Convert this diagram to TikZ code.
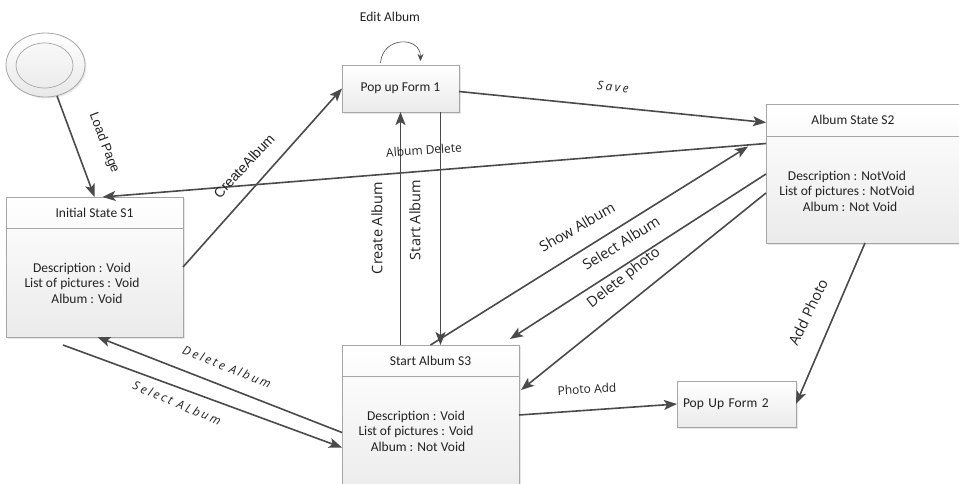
\documentclass[tikz,border=0pt]{standalone}
\usepackage{fontspec}
\setmainfont{Carlito}
\newfontfamily\osans{Open Sans}
\newfontfamily\osansls[LetterSpace=20]{Open Sans}
\newfontfamily\lsans{Liberation Sans}
\usetikzlibrary{arrows.meta,shapes.geometric,shadows,calc}
\definecolor{arrowc}{HTML}{4A4A4A}
\definecolor{boxline}{HTML}{A6A6A6}
\definecolor{txt}{HTML}{222222}
\begin{document}
\begin{tikzpicture}[x=1pt,y=-1pt,
  statebox/.style={draw=boxline, line width=0.8pt, top color=white, bottom color=gray!16,
    inner sep=0pt, outer sep=0pt, drop shadow={shadow xshift=1.5pt,shadow yshift=-1.5pt,opacity=0.2}},
  conn/.style={draw=arrowc, line width=1.6pt, -{Stealth[length=13pt,width=10pt,inset=3pt]}},
  loopc/.style={draw=arrowc, line width=0.6pt, -{Stealth[length=7pt,width=6pt]}},
  boxtext/.style={font=\fontsize{13.5}{15.5}\selectfont, text=txt, inner sep=0pt, align=center},
  lbl/.style={font=\osans\fontsize{14.5}{16}\selectfont, text=txt, inner sep=0pt},
  slbl/.style={font=\osans\fontsize{12}{14}\selectfont, text=txt, inner sep=0pt},
  ilbl/.style={font=\osansls\itshape\fontsize{12}{14}\selectfont, text=txt, inner sep=0pt},
  alabel/.style={font=\lsans\fontsize{13}{15}\selectfont, text=txt, inner sep=0pt}
]
\useasboundingbox (0,0) rectangle (959,483);
\clip (0,0) rectangle (959,483);

% start state
\node[ellipse, draw=boxline, line width=0.8pt, top color=white, bottom color=gray!18,
  minimum width=79pt, minimum height=64pt, inner sep=0pt,
  drop shadow={shadow xshift=1.5pt,shadow yshift=-1.5pt,opacity=0.18}] (start) at (45.5,65) {};
\node[ellipse, draw=boxline, line width=0.7pt, top color=gray!5, bottom color=gray!15,
  minimum width=57pt, minimum height=45pt, inner sep=0pt] (startin) at (44.5,65.5) {};

% state boxes
\node[statebox, minimum width=177pt, minimum height=140pt] (S1) at (94.5,267) {};
\draw[boxline, line width=0.7pt] ([yshift=-31pt]S1.north west) -- ([yshift=-31pt]S1.north east);
\node[boxtext] (S1t) at (94.5,213) {Initial State S1};
\node[boxtext] (S1b) at (82,283) {Description : Void\\List of pictures : Void\\\hspace*{10pt}Album : Void};

\node[statebox, minimum width=117pt, minimum height=47pt, boxtext] (PF1) at (400.5,88.5) {Pop up Form 1};

\node[statebox, minimum width=204pt, minimum height=139pt] (S2) at (868,173.5) {};
\draw[boxline, line width=0.7pt] ([yshift=-32pt]S2.north west) -- ([yshift=-32pt]S2.north east);
\node[boxtext] (S2t) at (853,120) {Album State S2};
\node[boxtext] (S2b) at (847,191) {Description : NotVoid\\List of pictures : NotVoid\\\hspace*{6pt}Album : Not Void};

\node[statebox, minimum width=177pt, minimum height=155pt] (S3) at (430.5,422.5) {};
\draw[boxline, line width=0.7pt] ([yshift=-31pt]S3.north west) -- ([yshift=-31pt]S3.north east);
\node[boxtext] (S3t) at (430.5,361) {Start Album S3};
\node[boxtext] (S3b) at (416,431) {Description : Void\\List of pictures : Void\\\hspace*{4pt}Album : Not Void};

\node[statebox, minimum width=119pt, minimum height=46pt, boxtext, align=left, text width=107pt,
  inner xsep=6pt] (PF2) at (736.5,404) {Pop Up Form 2};

\coordinate (sa) at (63,345);

% connectors
\draw[conn] (start) -- (S1.north);
\draw[conn] ([yshift=30pt]S2.west) -- ([xshift=8pt]S1.north);
\draw[conn] (S1.east) -- (PF1.west);
\draw[conn] ([yshift=-3pt]PF1.east) -- ([yshift=51pt]S2.west);
\draw[conn] ([xshift=-30pt]S3.north) -- (PF1.south);
\draw[conn] ([xshift=40pt]PF1.south) -- ([xshift=10pt]S3.north);
\draw[conn] (S3.north) -- ([xshift=-18pt,yshift=27pt]S2.west);
\draw[conn] ([yshift=-0.5pt]S2.west) -- ([xshift=-9pt,yshift=6pt]S3.north east);
\draw[conn] ([yshift=-19.5pt]S2.west) -- ([xshift=2pt,yshift=32.5pt]S3.east);
\draw[conn] ([xshift=-3pt]S2.south) -- (PF2.east);
\draw[conn] ([yshift=7.5pt]S3.east) -- (PF2.west);
\draw[conn] ([yshift=-10pt]S3.west) -- ([xshift=3pt]S1.south);
\draw[conn] (sa) -- ([yshift=-25pt]S3.west);
\draw[loopc] ([xshift=-20pt,yshift=2pt]PF1.north) .. controls ([xshift=-18pt,yshift=29pt]PF1.north) and ([xshift=20pt,yshift=29pt]PF1.north) .. ([xshift=20pt,yshift=4pt]PF1.north);

% labels
\node[alabel, rotate=-69] (lLoad) at (104,143) {Load Page};
\node[alabel, rotate=47, font=\lsans\fontsize{14}{16}\selectfont] (lCA) at (244,166) {CreateAlbum};
\node[ilbl, rotate=-5] (lSave) at (613,87) {Save};
\node[boxtext] (lEdit) at (390,17) {Edit Album};
\node[slbl, rotate=4] (lAD) at (424,150) {Album Delete};
\node[lbl, rotate=90] (lCrA) at (377,228) {Create Album};
\node[lbl, rotate=90] (lStA) at (415,220) {Start Album};
\node[lbl, rotate=30] (lShow) at (577,227) {Show Album};
\node[lbl, rotate=32, fill=white, inner sep=1pt] (lSel) at (621,243) {Select Album};
\node[lbl, rotate=38] (lDelP) at (624,278) {Delete photo};
\node[lbl, rotate=64] (lAdd) at (808,312) {Add Photo};
\node[slbl, rotate=3] (lPA) at (587,389) {Photo Add};
\node[ilbl, rotate=-22] (lDA) at (227,367) {Delete Album};
\node[ilbl, rotate=-23] (lSA) at (177,403) {Select ALbum};
\end{tikzpicture}
\end{document}
